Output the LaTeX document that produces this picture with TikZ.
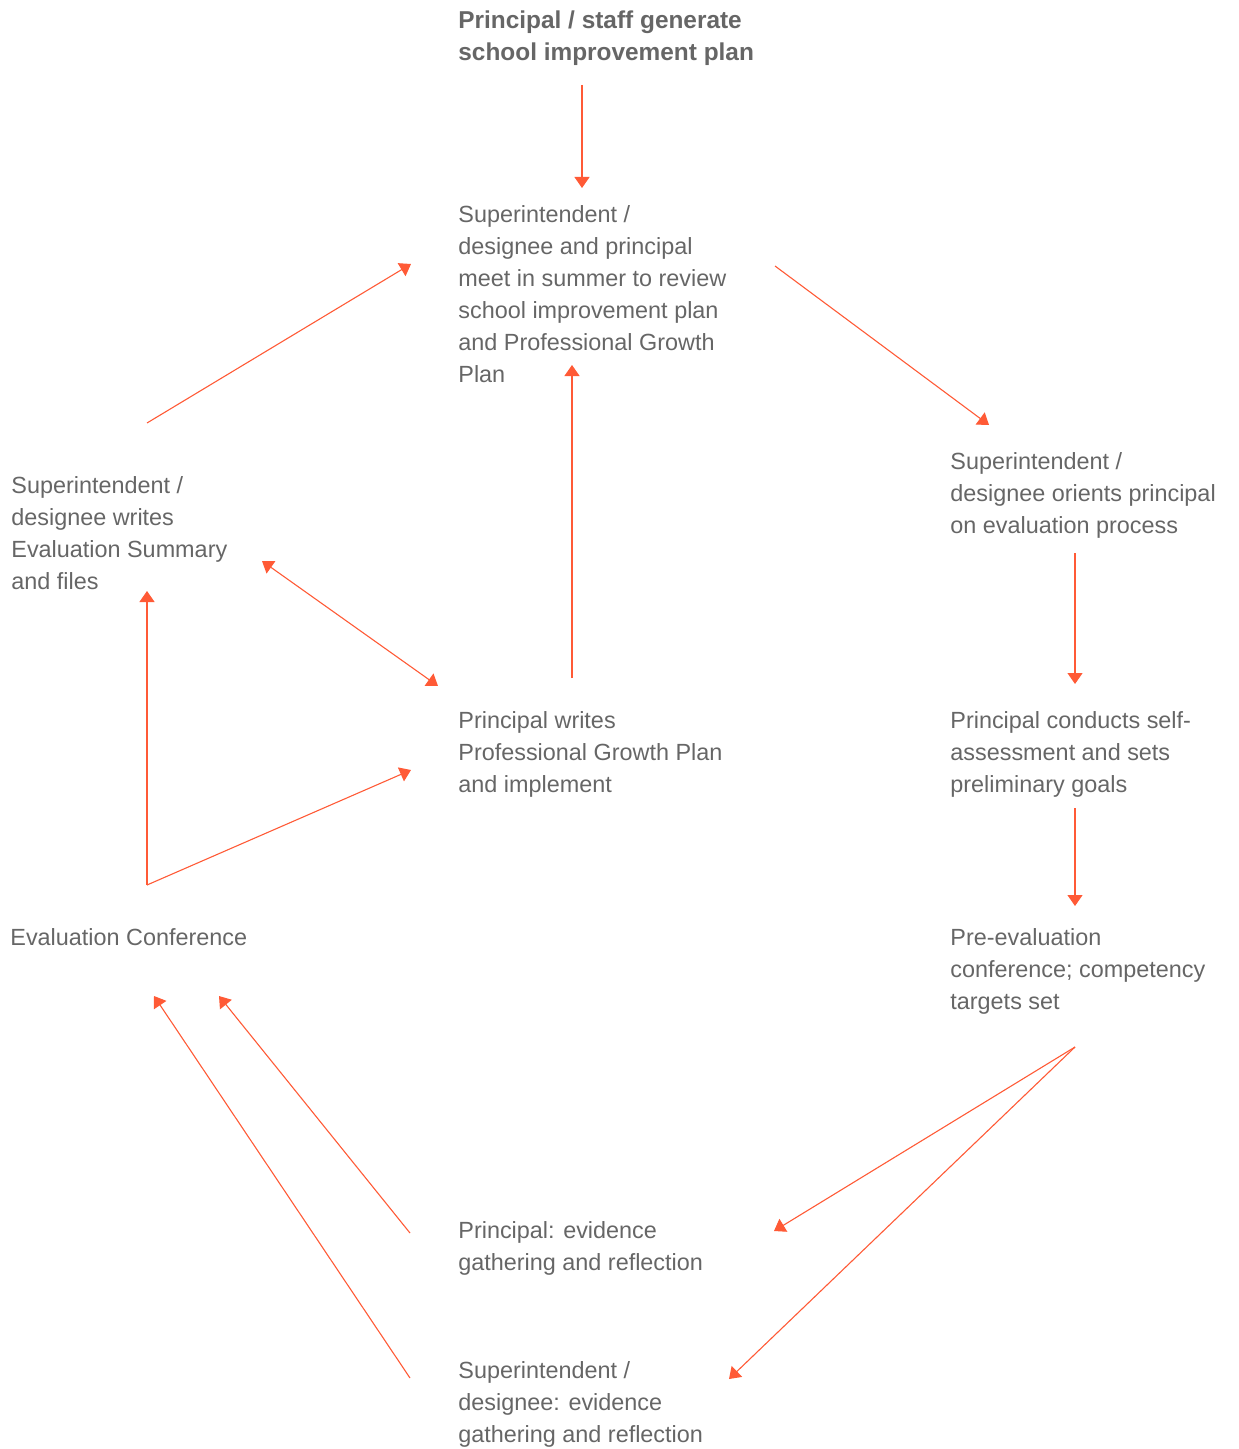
\documentclass[tikz,border=0pt]{standalone}
\usepackage{fontspec}
\setmainfont{Liberation Sans}
\usetikzlibrary{arrows.meta,positioning}
\definecolor{mgrey}{HTML}{666666}
\definecolor{morange}{HTML}{FF5A36}
\tikzstyle{l2}=[line width=0.55pt, draw=morange]
\tikzstyle{arr}=[l2, -{Triangle[length=5.5pt, width=7.5pt]}]
\tikzstyle{darr}=[l2, {Triangle[length=5.5pt, width=7.5pt]}-{Triangle[length=5.5pt, width=7.5pt]}]
\tikzstyle{stepbox}=[anchor=north west, inner sep=0pt, align=left, text=mgrey, font=\fontsize{11.7pt}{16pt}\selectfont]
\tikzstyle{titlebox}=[stepbox, font=\fontsize{12.2pt}{16pt}\selectfont\bfseries]

\begin{document}
\begin{tikzpicture}[x=0.5pt, y=-0.5pt]
    \useasboundingbox (0,0) rectangle (1238,1449);

    \node[titlebox] at (458, 10) (plan) {Principal / staff generate\\school improvement plan};
    \node[stepbox] at (458, 205) (review) {Superintendent /\\designee and principal\\meet in summer to review\\school improvement plan\\and Professional Growth\\Plan};
    \node[stepbox] at (950, 452) (orient) {Superintendent /\\designee orients principal\\on evaluation process};
    \node[stepbox] at (950, 711) (self) {Principal conducts self-\\assessment and sets\\preliminary goals};
    \node[stepbox] at (950, 928) (pre) {Pre-evaluation\\conference; competency\\targets set};
    \node[stepbox] at (458, 1221) (pevid) {Principal: evidence\\gathering and reflection};
    \node[stepbox] at (458, 1361) (sevid) {Superintendent /\\designee: evidence\\gathering and reflection};
    \node[stepbox] at (10, 928) (conf) {Evaluation Conference};
    \node[stepbox] at (458, 711) (pgp) {Principal writes\\Professional Growth Plan\\and implement};
    \node[stepbox] at (11, 476) (summ) {Superintendent /\\designee writes\\Evaluation Summary\\and files};

    % arrow ends
    \coordinate (planS) at (582, 85);   \coordinate (reviewN) at (582, 188);
    \coordinate (reviewE) at (775, 266); \coordinate (orientN) at (989, 425);
    \coordinate (orientS) at (1075, 553); \coordinate (selfN) at (1075, 684);
    \coordinate (selfS) at (1075, 808); \coordinate (preN) at (1075, 906);
    \coordinate (preS) at (1075, 1047);
    \coordinate (pevidE) at (774, 1231); \coordinate (sevidE) at (729, 1379);
    \coordinate (pevidW) at (410, 1233); \coordinate (sevidW) at (410, 1378);
    \coordinate (confA) at (219, 996); \coordinate (confB) at (154, 996);
    \coordinate (confN) at (147, 885);
    \coordinate (summS) at (147, 591); \coordinate (pgpW) at (411, 770);
    \coordinate (pgpN) at (572, 678); \coordinate (reviewS) at (572, 365);
    \coordinate (summE) at (262, 561); \coordinate (pgpNW) at (438, 686);
    \coordinate (summN) at (147, 423); \coordinate (reviewW) at (411, 264);

    \draw[arr] (planS) -- (reviewN);
    \draw[arr] (reviewE) -- (orientN);
    \draw[arr] (orientS) -- (selfN);
    \draw[arr] (selfS) -- (preN);
    \draw[arr] (preS) -- (pevidE);
    \draw[arr] (preS) -- (sevidE);
    \draw[arr] (pevidW) -- (confA);
    \draw[arr] (sevidW) -- (confB);
    \draw[arr] (confN) -- (summS);
    \draw[arr] (confN) -- (pgpW);
    \draw[arr] (pgpN) -- (reviewS);
    \draw[darr] (summE) -- (pgpNW);
    \draw[arr] (summN) -- (reviewW);
\end{tikzpicture}
\end{document}
